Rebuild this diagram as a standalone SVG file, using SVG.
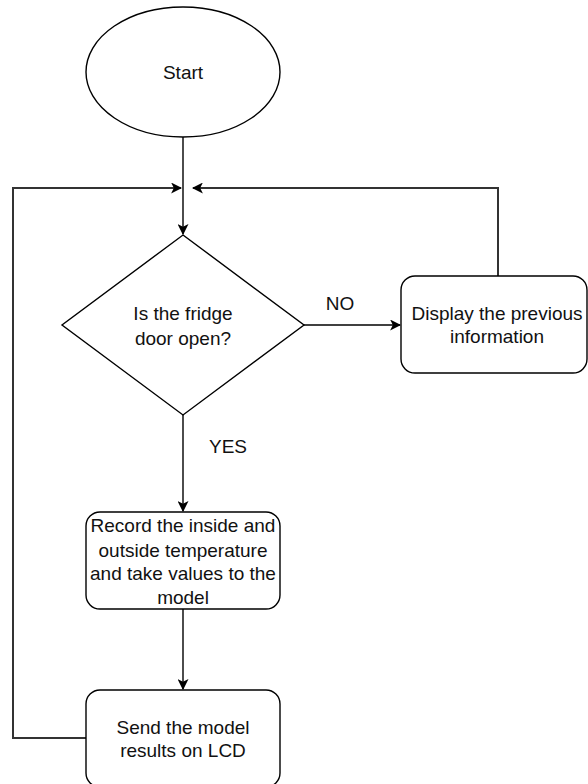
<svg xmlns="http://www.w3.org/2000/svg" width="588" height="784" viewBox="0 0 588 784">
<defs>
<marker id="arr" viewBox="0 0 10 10" refX="9" refY="5" markerWidth="11" markerHeight="11" markerUnits="userSpaceOnUse" orient="auto">
<path d="M0,0 L10,5 L0,10 L2.5,5 Z" fill="#000"/>
</marker>
</defs>
<style>
.shape{fill:#fff;stroke:#000;stroke-width:1.4}
.edge{fill:none;stroke:#000;stroke-width:1.4}
.loop{fill:none;stroke:#333;stroke-width:2}
text{font-family:"Liberation Sans",Arial,sans-serif;font-size:19px;fill:#111;text-anchor:middle}
</style>
<rect width="588" height="784" fill="#fff"/>
<g id="connectors">
<line class="edge" x1="183" y1="137" x2="183" y2="234" marker-end="url(#arr)"/>
<polyline class="loop" points="86,738 13,738 13,188 181,188" marker-end="url(#arr)"/>
<polyline class="loop" points="498,276 498,188 193,188" marker-end="url(#arr)"/>
<line class="edge" x1="304" y1="325" x2="400" y2="325" marker-end="url(#arr)"/>
<text x="340" y="310">NO</text>
<line class="edge" x1="183" y1="415" x2="183" y2="511" marker-end="url(#arr)"/>
<text x="228" y="453">YES</text>
<line class="edge" x1="183" y1="609" x2="183" y2="689" marker-end="url(#arr)"/>
</g>
<g id="start">
<ellipse class="shape" cx="183" cy="72" rx="97" ry="65"/>
<text x="183" y="79">Start</text>
</g>
<g id="decision">
<polygon class="shape" points="183,235 304,325 183,415 62,325"/>
<text x="183" y="320">Is the fridge</text>
<text x="183" y="345">door open?</text>
</g>
<g id="display">
<rect class="shape" x="401" y="276" width="186" height="97" rx="14"/>
<text x="497" y="320">Display the previous</text>
<text x="497" y="343">information</text>
</g>
<g id="record">
<rect class="shape" x="86" y="512" width="194" height="97" rx="14"/>
<text x="183" y="532">Record the inside and</text>
<text x="183" y="557">outside temperature</text>
<text x="183" y="580">and take values to the</text>
<text x="183" y="604">model</text>
</g>
<g id="send">
<rect class="shape" x="86" y="690" width="194" height="97" rx="14"/>
<text x="183" y="734">Send the model</text>
<text x="183" y="757">results on LCD</text>
</g>
</svg>
